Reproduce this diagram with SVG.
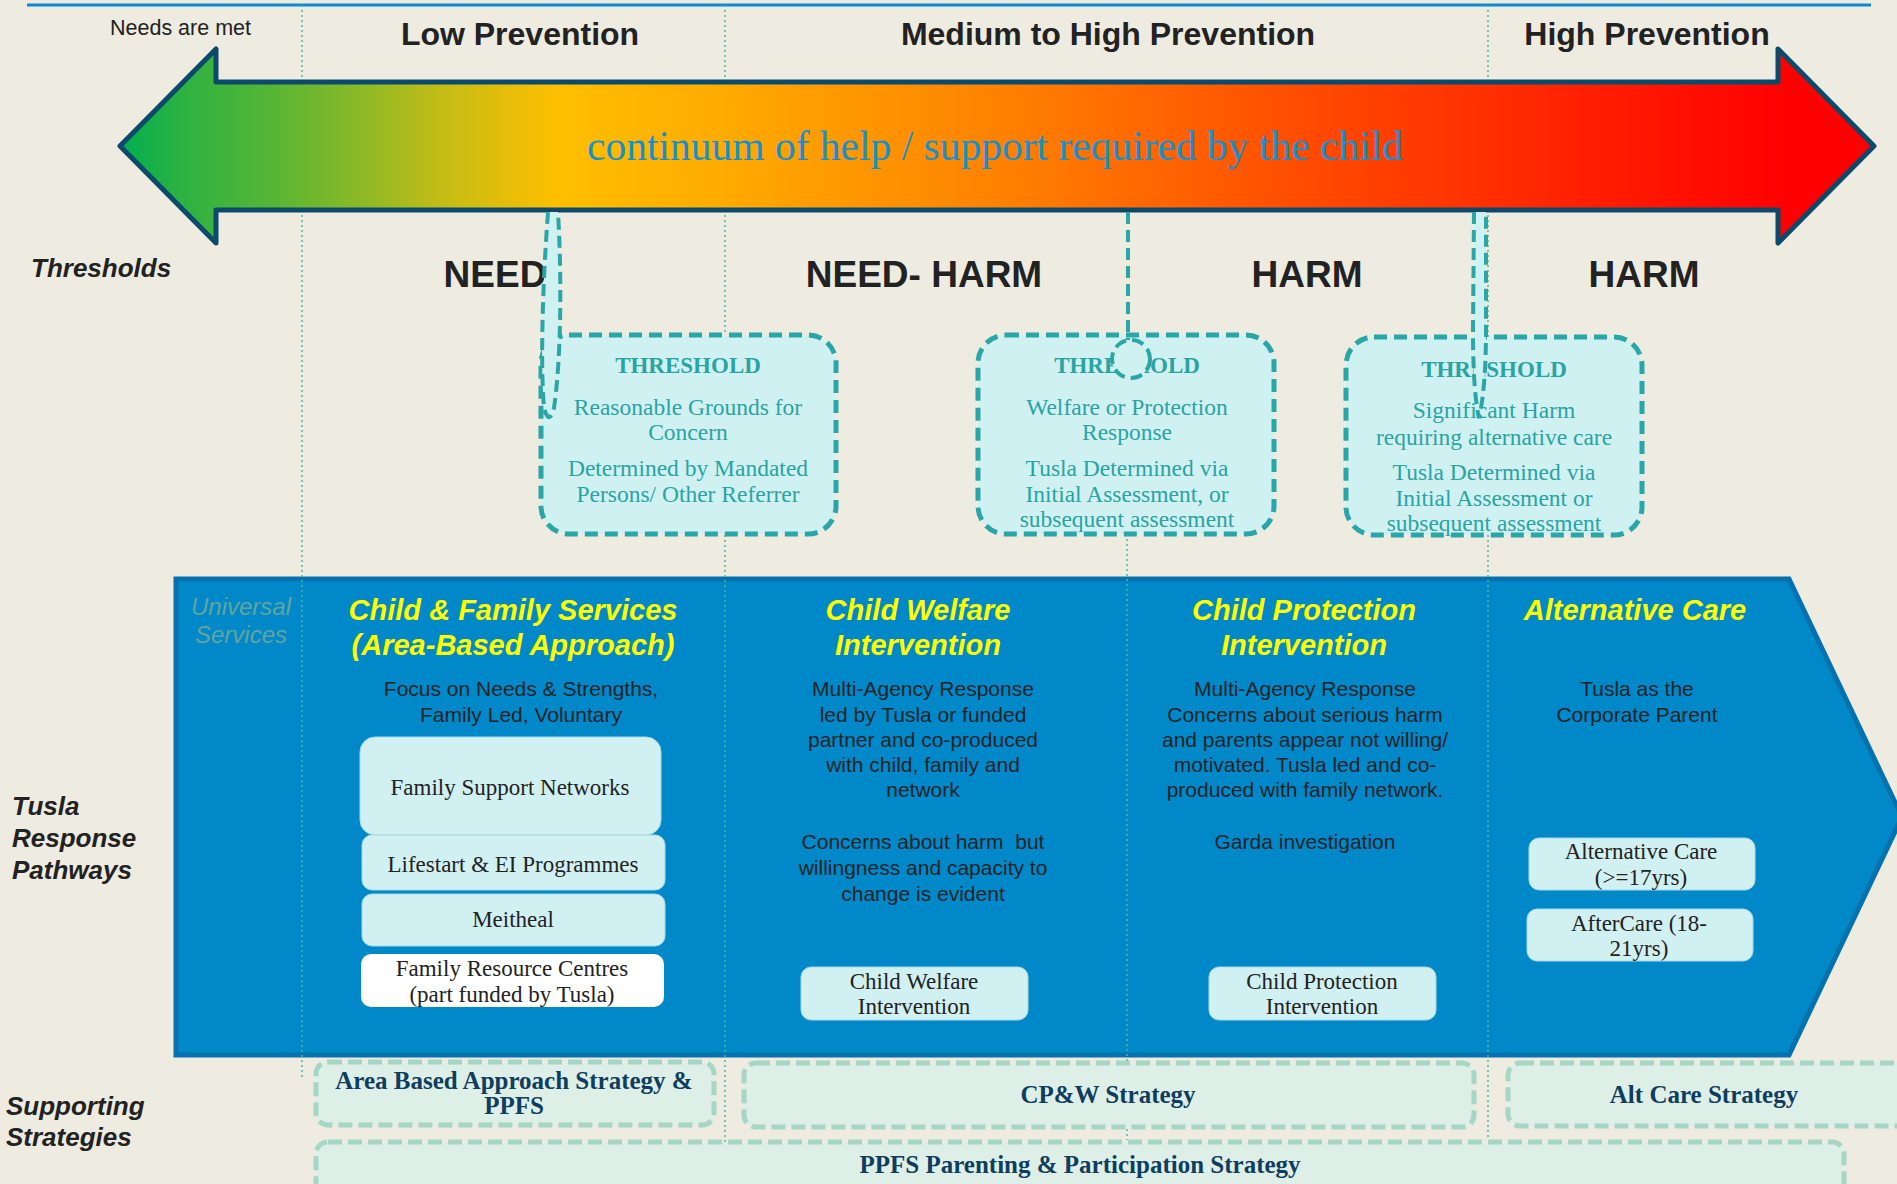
<svg xmlns="http://www.w3.org/2000/svg" width="1897" height="1184" viewBox="0 0 1897 1184">
<defs>
<linearGradient id="arrowGrad" gradientUnits="userSpaceOnUse" x1="120" y1="0" x2="1874" y2="0">
<stop offset="0" stop-color="#00ae4f"/>
<stop offset="0.033" stop-color="#2ab243"/>
<stop offset="0.085" stop-color="#55b535"/>
<stop offset="0.135" stop-color="#8ab928"/>
<stop offset="0.186" stop-color="#c6bc15"/>
<stop offset="0.25" stop-color="#ffbf00"/>
<stop offset="0.33" stop-color="#ffae00"/>
<stop offset="0.5" stop-color="#ff8200"/>
<stop offset="0.67" stop-color="#ff4d00"/>
<stop offset="0.82" stop-color="#ff2400"/>
<stop offset="0.95" stop-color="#ff0000"/>
<stop offset="1" stop-color="#ff0000"/>
</linearGradient>
<style>
.sans{font-family:"Liberation Sans",Arial,sans-serif}
.serif{font-family:"Liberation Serif","Times New Roman",serif}
.mid{text-anchor:middle}
.hdr{font-size:32px;font-weight:bold;fill:#222}
.lvl{font-size:37px;font-weight:bold;fill:#222}
.side{font-size:26px;font-weight:bold;font-style:italic;fill:#222}
.thbox{fill:#d0f1f1;stroke:#2ba6a6;stroke-width:5;stroke-dasharray:13 7}
.thtitle{font-size:23px;font-weight:bold;fill:#2aa3a3}
.thtext{font-size:23.5px;fill:#2aa3a3}
.dot{stroke:#4ab89c;stroke-width:1.5;stroke-dasharray:2 3;fill:none}
.ytitle{font-size:29px;font-weight:bold;font-style:italic;fill:#ffff00}
.body{font-size:21px;fill:#1e2428}
.inbox{fill:#d1f0f2;stroke:#a6dbe3;stroke-width:1}
.intext{font-size:23px;fill:#222}
.stbox{fill:#deefe8;stroke:#a6d6c5;stroke-width:5;stroke-dasharray:14 6}
.sttext{font-size:25px;font-weight:bold;fill:#0f3d5e}
.conn{fill:#d0f1f1;stroke:#2ba6a6;stroke-width:4;stroke-dasharray:12 6}
</style>
</defs>

<rect x="0" y="0" width="1897" height="1184" fill="#eeebe1"/>
<line x1="27" y1="5" x2="1871" y2="5" stroke="#0a8ad0" stroke-width="3"/>

<g id="header-labels" class="sans">
<text x="110" y="35" font-size="21.5" fill="#222">Needs are met</text>
<text class="hdr mid" x="520" y="45">Low Prevention</text>
<text class="hdr mid" x="1108" y="45">Medium to High Prevention</text>
<text class="hdr mid" x="1647" y="45">High Prevention</text>
</g>

<g id="response-pathways">
<path d="M176,579 L1789,579 L1902,817 L1789,1055 L176,1055 Z" fill="#0088c8" stroke="#0672ad" stroke-width="5"/>
</g>

<g id="dividers">
<line class="dot" x1="302" y1="5" x2="302" y2="1077"/>
<line class="dot" x1="725" y1="5" x2="725" y2="1145"/>
<line class="dot" x1="1127" y1="534" x2="1127" y2="1140"/>
<line class="dot" x1="1488" y1="5" x2="1488" y2="1140"/>
</g>

<g id="continuum-arrow">
<path d="M120,146 L216,49 L216,82 L1778,82 L1778,49 L1874,146 L1778,243 L1778,210 L216,210 L216,243 Z" fill="url(#arrowGrad)" stroke="#0b4a6b" stroke-width="5" stroke-linejoin="round"/>
<text class="serif mid" x="995" y="160" font-size="41.5" fill="#1a8fd0">continuum of help / support required by the child</text>
</g>

<g id="threshold-labels" class="sans">
<text class="side" x="31" y="277">Thresholds</text>
<text class="lvl mid" x="495" y="287">NEED</text>
<text class="lvl mid" x="924" y="287">NEED- HARM</text>
<text class="lvl mid" x="1307" y="287">HARM</text>
<text class="lvl mid" x="1644" y="287">HARM</text>
</g>

<g id="threshold-1" class="serif">
<rect class="thbox" x="541" y="335" width="295" height="199" rx="28"/>
<text class="thtitle mid" x="688" y="373">THRESHOLD</text>
<text class="thtext mid" x="688" y="415">Reasonable Grounds for</text>
<text class="thtext mid" x="688" y="440">Concern</text>
<text class="thtext mid" x="688" y="476">Determined by Mandated</text>
<text class="thtext mid" x="688" y="502">Persons/ Other Referrer</text>
</g>

<g id="threshold-2" class="serif">
<rect class="thbox" x="978" y="335" width="296" height="199" rx="28"/>
<text class="thtitle mid" x="1127" y="373">THRESHOLD</text>
<text class="thtext mid" x="1127" y="415">Welfare or Protection</text>
<text class="thtext mid" x="1127" y="440">Response</text>
<text class="thtext mid" x="1127" y="476">Tusla Determined via</text>
<text class="thtext mid" x="1127" y="502">Initial Assessment, or</text>
<text class="thtext mid" x="1127" y="527">subsequent assessment</text>
</g>

<g id="threshold-3" class="serif">
<rect class="thbox" x="1346" y="337" width="296" height="198" rx="28"/>
<text class="thtitle mid" x="1494" y="377">THRESHOLD</text>
<text class="thtext mid" x="1494" y="418">Significant Harm</text>
<text class="thtext mid" x="1494" y="445" font-size="24.5">requiring alternative care</text>
<text class="thtext mid" x="1494" y="480">Tusla Determined via</text>
<text class="thtext mid" x="1494" y="506">Initial Assessment or</text>
<text class="thtext mid" x="1494" y="531">subsequent assessment</text>
</g>

<g id="connectors">
<path class="conn" d="M548,212 C543,280 540,360 544,408 Q549,426 554,408 C561,360 562,280 558,212"/>
<line x1="1128" y1="212" x2="1128" y2="340" stroke="#2ba6a6" stroke-width="4" stroke-dasharray="12 6"/>
<circle class="conn" cx="1131" cy="359" r="19"/>
<path class="conn" d="M1474,212 L1473,330 C1473,380 1476,405 1479,418 C1482,405 1486,380 1486,330 L1486,212"/>
</g>

<g id="col-universal" class="sans">
<text class="mid" x="241" y="615" font-size="24" font-style="italic" fill="#62a4a2">Universal</text>
<text class="mid" x="241" y="643" font-size="24" font-style="italic" fill="#62a4a2">Services</text>
</g>

<g id="col-family-services" class="sans">
<text class="ytitle mid" x="513" y="620">Child &amp; Family Services</text>
<text class="ytitle mid" x="513" y="655">(Area-Based Approach)</text>
<text class="body mid" x="521" y="696">Focus on Needs &amp; Strengths,</text>
<text class="body mid" x="521" y="722">Family Led, Voluntary</text>
</g>

<g id="box-family-support" class="serif">
<rect class="inbox" x="360" y="737" width="301" height="98" rx="15"/>
<text class="intext mid" x="510" y="795">Family Support Networks</text>
</g>
<g id="box-lifestart" class="serif">
<rect class="inbox" x="362" y="835" width="303" height="55" rx="10"/>
<text class="intext mid" x="513" y="872">Lifestart &amp; EI Programmes</text>
</g>
<g id="box-meitheal" class="serif">
<rect class="inbox" x="362" y="894" width="303" height="52" rx="10"/>
<text class="intext mid" x="513" y="927">Meitheal</text>
</g>
<g id="box-frc" class="serif">
<rect x="361" y="954" width="303" height="53" rx="10" fill="#ffffff"/>
<text class="intext mid" x="512" y="976">Family Resource Centres</text>
<text class="intext mid" x="512" y="1002">(part funded by Tusla)</text>
</g>

<g id="col-child-welfare" class="sans">
<text class="ytitle mid" x="918" y="620">Child Welfare</text>
<text class="ytitle mid" x="918" y="655">Intervention</text>
<text class="body mid" x="923" y="696">Multi-Agency Response</text>
<text class="body mid" x="923" y="722">led by Tusla or funded</text>
<text class="body mid" x="923" y="747">partner and co-produced</text>
<text class="body mid" x="923" y="772">with child, family and</text>
<text class="body mid" x="923" y="797">network</text>
<text class="body mid" x="923" y="849">Concerns about harm&#160; but</text>
<text class="body mid" x="923" y="875">willingness and capacity to</text>
<text class="body mid" x="923" y="901">change is evident</text>
</g>
<g id="box-child-welfare" class="serif">
<rect class="inbox" x="801" y="967" width="227" height="53" rx="10"/>
<text class="intext mid" x="914" y="989">Child Welfare</text>
<text class="intext mid" x="914" y="1014">Intervention</text>
</g>

<g id="col-child-protection" class="sans">
<text class="ytitle mid" x="1304" y="620">Child Protection</text>
<text class="ytitle mid" x="1304" y="655">Intervention</text>
<text class="body mid" x="1305" y="696">Multi-Agency Response</text>
<text class="body mid" x="1305" y="722">Concerns about serious harm</text>
<text class="body mid" x="1305" y="747">and parents appear not willing/</text>
<text class="body mid" x="1305" y="772">motivated. Tusla led and co-</text>
<text class="body mid" x="1305" y="797">produced with family network.</text>
<text class="body mid" x="1305" y="849">Garda investigation</text>
</g>
<g id="box-child-protection" class="serif">
<rect class="inbox" x="1209" y="967" width="227" height="53" rx="10"/>
<text class="intext mid" x="1322" y="989">Child Protection</text>
<text class="intext mid" x="1322" y="1014">Intervention</text>
</g>

<g id="col-alternative-care" class="sans">
<text class="ytitle mid" x="1635" y="620">Alternative Care</text>
<text class="body mid" x="1637" y="696">Tusla as the</text>
<text class="body mid" x="1637" y="722">Corporate Parent</text>
</g>
<g id="box-alt-care" class="serif">
<rect class="inbox" x="1529" y="838" width="226" height="52" rx="10"/>
<text class="intext mid" x="1641" y="859">Alternative Care</text>
<text class="intext mid" x="1641" y="885">(&gt;=17yrs)</text>
</g>
<g id="box-aftercare" class="serif">
<rect class="inbox" x="1527" y="909" width="226" height="52" rx="10"/>
<text class="intext mid" x="1639" y="931">AfterCare (18-</text>
<text class="intext mid" x="1639" y="956">21yrs)</text>
</g>

<g id="side-labels" class="sans">
<text class="side" x="12" y="815">Tusla</text>
<text class="side" x="12" y="847">Response</text>
<text class="side" x="12" y="879">Pathways</text>
<text class="side" x="6" y="1115">Supporting</text>
<text class="side" x="6" y="1146">Strategies</text>
</g>

<g id="strategy-aba" class="serif">
<rect class="stbox" x="316" y="1062" width="398" height="63" rx="12"/>
<text class="sttext mid" x="514" y="1089">Area Based Approach Strategy &amp;</text>
<text class="sttext mid" x="514" y="1114">PPFS</text>
</g>
<g id="strategy-cpw" class="serif">
<rect class="stbox" x="744" y="1063" width="730" height="64" rx="12"/>
<text class="sttext mid" x="1108" y="1103">CP&amp;W Strategy</text>
</g>
<g id="strategy-altcare" class="serif">
<rect class="stbox" x="1508" y="1063" width="420" height="63" rx="12"/>
<text class="sttext mid" x="1704" y="1103">Alt Care Strategy</text>
</g>
<g id="strategy-ppfs" class="serif">
<rect class="stbox" x="316" y="1142" width="1528" height="70" rx="12"/>
<text class="sttext mid" x="1080" y="1173">PPFS Parenting &amp; Participation Strategy</text>
</g>
</svg>
